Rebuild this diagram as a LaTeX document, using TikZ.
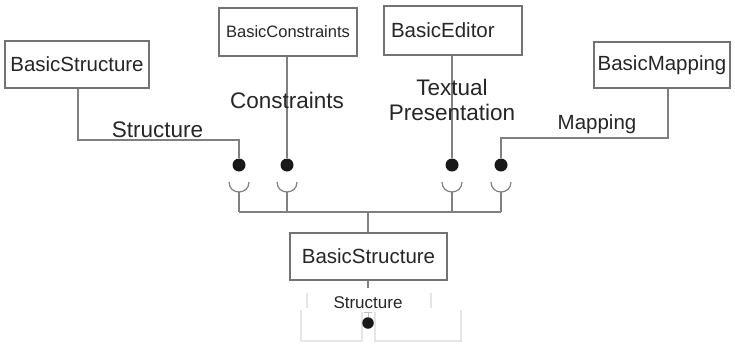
\documentclass[tikz,border=0pt]{standalone}
\usepackage{fontspec}
\setmainfont{Liberation Sans}
\begin{document}
\begin{tikzpicture}[x=1pt,y=-1pt,
  box/.style={draw=black!55, line width=1.4pt, fill=white, inner sep=0pt,
    text=black!85, font=\fontsize{20.5}{24}\selectfont},
  wire/.style={draw=black!50, line width=1.2pt},
  ghost/.style={draw=black!10, line width=1.2pt},
  dot/.style={circle, fill=black!90, inner sep=0pt, minimum size=13pt},
  lbl/.style={text=black!85, inner sep=0pt, align=center},
  cup/.style={draw=black!50, line width=1.2pt}
]
\useasboundingbox (0,0) rectangle (735,343);

% component boxes
\node[box, minimum width=144, minimum height=47] (bs) at (77,64.5) {BasicStructure};
\node[box, minimum width=138, minimum height=48, font=\fontsize{16.5}{19}\selectfont] (bc) at (288,32) {BasicConstraints};
\node[box, minimum height=49, text width=124, inner xsep=7pt, align=left] (be) at (453,30.5) {BasicEditor};
\node[box, minimum width=136, minimum height=46] (bm) at (662,65) {BasicMapping};
\node[box, minimum width=157, minimum height=47] (core) at (368.5,256.5) {BasicStructure};

% provided interfaces (lollipop dots)
\node[dot] (d1) at (239,165) {};
\node[dot] (d2) at (287,165) {};
\node[dot] (d3) at (452,165) {};
\node[dot] (d4) at (501,165) {};

% bends of the connectors
\coordinate (b1) at (78,140);
\coordinate (b1e) at (239,140);
\coordinate (b4) at (668,138);
\coordinate (b4e) at (501,138);

\draw[wire] (b1 |- bs.south) -- (b1) -- (b1e) -- (d1.north);
\draw[wire] (d2 |- bc.south) -- (d2.north);
\draw[wire] (d3 |- be.south) -- (d3.north);
\draw[wire] (b4 |- bm.south) -- (b4) -- (b4e) -- (d4.north);

% required interfaces (sockets) and their joint bus
\foreach \n/\x in {1/239,2/287,3/452,4/501}{
  \draw[cup] (\x-10,182) .. controls (\x-10,195.3) and (\x+10,195.3) .. (\x+10,182);
  \coordinate (c\n) at (\x,192);
  \coordinate (j\n) at (\x,212);
  \draw[wire] (c\n) -- (j\n);
}
\coordinate (jm) at (368,212);
\draw[wire] (j1) -- (j4);
\draw[wire] (jm) -- (core.north -| jm);

% connector labels
\node[lbl, font=\fontsize{22.5}{24}\selectfont] (lstruct) at (157.5,130) {Structure};
\node[lbl, font=\fontsize{22.5}{24}\selectfont] (lcons) at (287,100) {Constraints};
\node[lbl, font=\fontsize{22.5}{25}\selectfont] (ltext) at (452,100) {Textual\\Presentation};
\node[lbl, font=\fontsize{20.5}{24}\selectfont] (lmap) at (597,124) {Mapping};

% provided interface of the core component
\draw[ghost] (301,310) -- (301,341) -- (362,341) -- (362,312);
\draw[ghost] (375,312) -- (375,341) -- (461,341) -- (461,310);
\draw[ghost] (307,293) -- (307,308);
\draw[ghost] (431,293) -- (431,308);
\node[dot, minimum size=11.5pt] (d5) at (368,323) {};
\coordinate (t5) at (368,288);
\draw[wire] (core.south -| t5) -- (t5);
\draw[draw=black!25, line width=0.8pt] (364,312) -- (372,312) (368,312) -- (d5.north);
\node[lbl, font=\fontsize{17}{20}\selectfont] (lstruct2) at (368,303) {Structure};
\end{tikzpicture}
\end{document}
